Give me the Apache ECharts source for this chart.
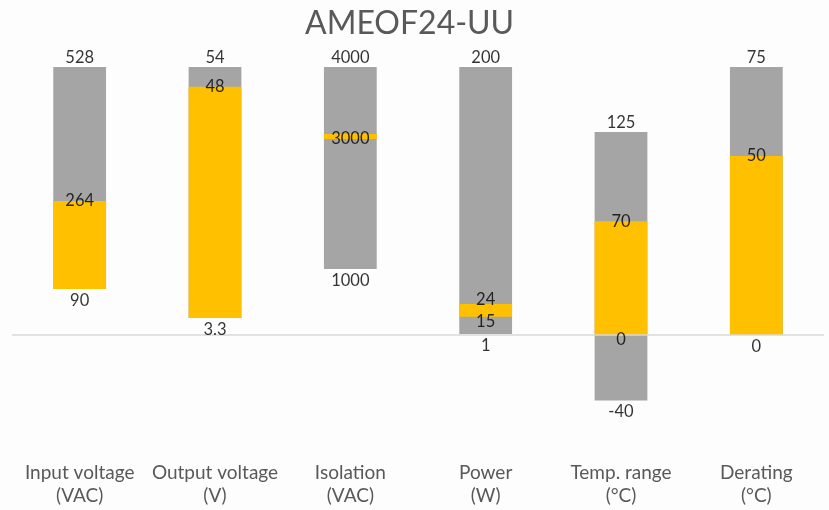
<!DOCTYPE html>
<html>
<head>
<meta charset="utf-8">
<script src="https://cdn.jsdelivr.net/npm/echarts@6/dist/echarts.min.js"></script>
<style>
  html, body { margin: 0; padding: 0; background: #fdfdfd; }
  #chart { width: 829px; height: 510px; }
</style>
</head>
<body>
<div id="chart"></div>
<script>
// Categories (x axis)
const categories = ['Input voltage\n(VAC)', 'Output voltage\n(V)', 'Isolation\n(VAC)', 'Power\n(W)', 'Temp. range\n(°C)', 'Derating\n(°C)'];

// Each category is drawn on its own normalised scale (% of that category's full range)
const grayLow    = [17.2, 6.3, 24.6, 0.4, -24.4, 0];
const grayHigh   = [100, 100, 100, 100, 75.7, 100];
const yellowLow  = [17.2, 6.3, 73.1, 6.8, 0, 0];
const yellowHigh = [50, 92.6, 75.0, 11.6, 42.4, 66.8];

// Value labels: [category index, normalised position, text, placement]
const valueLabels = [
  [0, 100, '528', 'top'], [0, 50, '264', 'inside'], [0, 17.2, '90', 'bottom'],
  [1, 100, '54', 'top'], [1, 92.6, '48', 'inside'], [1, 6.3, '3.3', 'bottom'],
  [2, 100, '4000', 'top'], [2, 73.1, '3000', 'inside'], [2, 24.6, '1000', 'bottom'],
  [3, 100, '200', 'top'], [3, 11.6, '24', 'top-in'], [3, 6.8, '15', 'bottom-in'], [3, 0.4, '1', 'bottom'],
  [4, 75.7, '125', 'top'], [4, 42.4, '70', 'inside'], [4, 0, '0', 'bottom-in'], [4, -24.4, '-40', 'bottom'],
  [5, 100, '75', 'top'], [5, 66.8, '50', 'inside'], [5, 0, '0', 'bottom']
];

const FONT = 'Lato, "Open Sans", sans-serif';

function rangeRenderer(color) {
  return function (params, api) {
    const x = api.value(0);
    const lo = api.value(1);
    const hi = api.value(2);
    const pTop = api.coord([x, hi]);
    const pBot = api.coord([x, lo]);
    const w = api.size([1, 0])[0] * 0.39;
    return {
      type: 'rect',
      shape: { x: pTop[0] - w / 2, y: pTop[1], width: w, height: pBot[1] - pTop[1] },
      style: { fill: color }
    };
  };
}

const grayData = categories.map((c, i) => [i, grayLow[i], grayHigh[i]]);
const yellowData = categories.map((c, i) => [i, yellowLow[i], yellowHigh[i]]);

const placement = {
  'top': { position: 'top', distance: 1 },
  'inside': { position: 'inside', distance: 0 },
  'bottom': { position: 'bottom', distance: 3 },
  'top-in': { position: 'top', distance: -4 },
  'bottom-in': { position: 'bottom', distance: -4 }
};

const labelData = valueLabels.map(l => ({
  name: l[2],
  value: [l[0], l[1]],
  label: placement[l[3]]
}));

const chart = echarts.init(document.getElementById('chart'), null, { renderer: 'canvas' });
chart.setOption({
  backgroundColor: '#fdfdfd',
  animation: false,
  textStyle: { fontFamily: FONT },
  title: {
    text: 'AMEOF24-UU',
    left: 305,
    top: 8,
    padding: 0,
    textStyle: { fontFamily: FONT, fontSize: 32, fontWeight: 'normal', color: '#595959' }
  },
  grid: { left: 12, right: 5, top: 67, bottom: 67.8, containLabel: false },
  xAxis: {
    type: 'category',
    data: categories,
    axisLine: { show: false },
    axisTick: { show: false },
    splitLine: { show: false },
    axisLabel: {
      interval: 0,
      margin: 19,
      color: '#595959',
      fontFamily: FONT,
      fontSize: 19,
      lineHeight: 23
    }
  },
  yAxis: {
    type: 'value',
    min: -40,
    max: 100,
    show: false,
    splitLine: { show: false }
  },
  series: [
    {
      type: 'custom',
      name: 'range',
      renderItem: rangeRenderer('#a5a5a5'),
      encode: { x: 0, y: [1, 2] },
      data: grayData,
      z: 2
    },
    {
      type: 'custom',
      name: 'typical',
      renderItem: rangeRenderer('#ffc000'),
      encode: { x: 0, y: [1, 2] },
      data: yellowData,
      z: 3,
      markLine: {
        silent: true,
        symbol: 'none',
        label: { show: false },
        lineStyle: { color: '#d9d9d9', width: 1.5, type: 'solid' },
        data: [{ yAxis: 0 }]
      }
    },
    {
      type: 'scatter',
      name: 'labels',
      symbolSize: 0,
      z: 5,
      silent: true,
      data: labelData,
      label: {
        show: true,
        formatter: '{b}',
        color: '#000000',
        fontFamily: FONT,
        fontSize: 16.5
      }
    }
  ]
});
</script>
</body>
</html>
